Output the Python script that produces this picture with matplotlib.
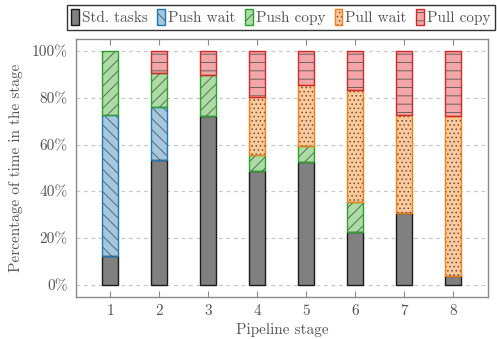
import matplotlib
matplotlib.use("Agg")
import matplotlib.pyplot as plt
from matplotlib.patches import Patch
from matplotlib.legend_handler import HandlerTuple
import numpy as np

plt.rcParams['font.family'] = ['cmr10', 'DejaVu Serif']
plt.rcParams['hatch.linewidth'] = 0.6
plt.rcParams['axes.unicode_minus'] = False

stages = [1, 2, 3, 4, 5, 6, 7, 8]
std_tasks = [12.4, 53.6, 72.3, 48.9, 52.6, 22.9, 30.8, 4.1]
push_wait = [60.3, 22.2, 0.0, 0.0, 0.0, 0.0, 0.0, 0.0]
push_copy = [27.3, 14.7, 17.2, 6.7, 6.9, 12.8, 0.0, 0.0]
pull_wait = [0.0, 0.0, 0.0, 24.7, 25.7, 47.4, 41.6, 67.9]
pull_copy = [0.0, 9.5, 10.5, 19.7, 14.8, 16.9, 27.6, 28.0]

series_names = ["Std. tasks", "Push wait", "Push copy", "Pull wait", "Pull copy"]
series_vals = [std_tasks, push_wait, push_copy, pull_wait, pull_copy]
face_colors = ["#808080", "#a5c8e1", "#abdda3", "#ffc999", "#f2a6a8"]
edge_colors = ["#1a1a1a", "#1f77b4", "#2ca02c", "#ff7f0e", "#d62728"]
hatches = [None, "\\\\\\", "///", "....", "--"]
hatch_ink = "#555555"
text_gray = "#555555"

fig = plt.figure(figsize=(4.97, 3.39), dpi=100)
ax = fig.add_axes([0.153, 0.124, 0.829, 0.761])

width = 0.33
bottom = np.zeros(len(stages))
handles = []
for name, vals, fc, ec, h in zip(series_names, series_vals, face_colors, edge_colors, hatches):
    vals = np.asarray(vals, dtype=float)
    mask = vals > 0
    x = np.asarray(stages)[mask]
    ax.bar(x, vals[mask], width, bottom=bottom[mask], facecolor=fc,
           edgecolor=hatch_ink, hatch=h, linewidth=0, zorder=3)
    ax.bar(x, vals[mask], width, bottom=bottom[mask], fill=False,
           edgecolor=ec, linewidth=1.0, zorder=4)
    bottom += vals
    handles.append((Patch(facecolor=fc, edgecolor=hatch_ink, hatch=h, linewidth=0),
                    Patch(fill=False, edgecolor=ec, linewidth=1.0)))

ax.set_xlim(0.3, 8.71)
ax.set_ylim(-5, 105)
ax.set_xticks(stages)
ax.set_xticklabels([str(s) for s in stages])
yt = [0, 20, 40, 60, 80, 100]
ax.set_yticks(yt)
ax.set_yticklabels([f"{v}%" for v in yt])
ax.yaxis.grid(True, linestyle=(0, (3, 3)), color="#c8c8c8", linewidth=0.9, zorder=0)
ax.set_axisbelow(True)

for sp in ax.spines.values():
    sp.set_color("#8a8a8a")
    sp.set_linewidth(1.0)
ax.tick_params(axis="x", direction="in", top=True, length=4, color="#8a8a8a",
               labelsize=11, labelcolor=text_gray, pad=5)
ax.tick_params(axis="y", length=0, labelsize=11, labelcolor=text_gray, pad=6)

ax.set_xlabel("Pipeline stage", fontsize=11, color=text_gray, labelpad=4)
ax.set_ylabel("Percentage of time in the stage", fontsize=11, color=text_gray, labelpad=6)

leg = ax.legend(handles, series_names, handler_map={tuple: HandlerTuple(ndivide=1)},
                ncol=5, loc="lower center", bbox_to_anchor=(0.497, 1.035),
                fontsize=11, frameon=True, fancybox=False, edgecolor="black",
                handlelength=0.5, handleheight=1.2, handletextpad=0.2,
                columnspacing=0.62, borderpad=0.3, borderaxespad=0)
leg.get_frame().set_linewidth(1.0)
for t in leg.get_texts():
    t.set_color(text_gray)

fig.savefig("out.png", dpi=100)
